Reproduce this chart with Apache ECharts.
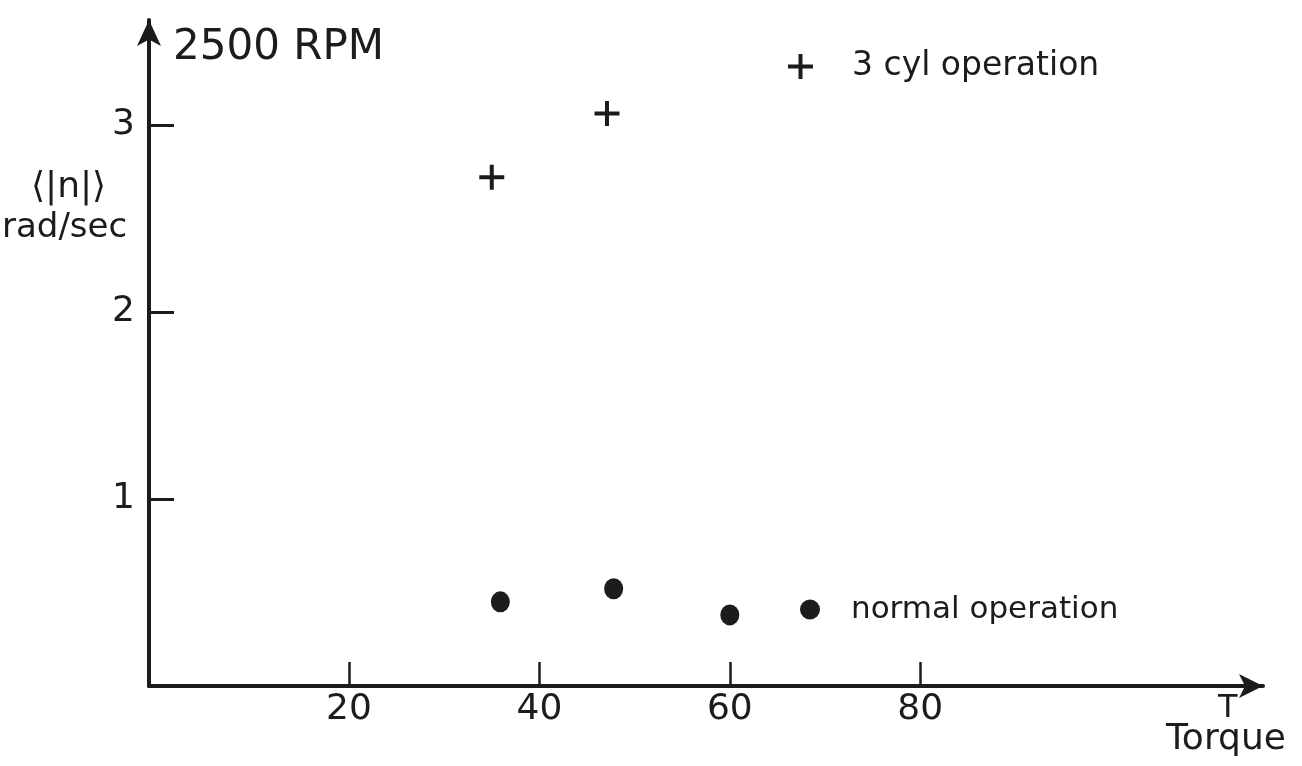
<!DOCTYPE html>
<html>
<head>
<meta charset="utf-8">
<style>
  html, body { margin: 0; padding: 0; background: #fff; }
  #chart { width: 1302px; height: 766px; }
</style>
<script src="https://cdn.jsdelivr.net/npm/echarts@6/dist/echarts.min.js"></script>
</head>
<body>
<div id="chart"></div>
<script>
// torque (x) vs <|n|> rad/sec (y)
const cylTorque = [35.0, 47.1];
const cylSpeed = [2.72, 3.06];
const normalTorque = [35.9, 47.8, 60.0];
const normalSpeed = [0.45, 0.52, 0.38];

const xTicks = [20, 40, 60, 80];
const yTicks = [1, 2, 3];

const ink = '#1c1c1c';
const font = 'DejaVu Sans';
const plusPath = 'path://M8.4,0H11.6V8.4H20V11.6H11.6V20H8.4V11.6H0V8.4H8.4Z';

function pairs(xs, ys) {
    return xs.map((x, i) => [x, ys[i]]);
}

function label(text, left, top, size) {
    return {
        type: 'text',
        left: left,
        top: top,
        style: { text: text, fontFamily: font, fontSize: size, fill: ink }
    };
}

let myChart = echarts.init(document.getElementById('chart'));
let option = {
    animation: false,
    backgroundColor: '#fff',
    textStyle: { fontFamily: font, color: ink },
    title: {
        text: '2500 RPM',
        left: 168,
        top: 22,
        textStyle: { fontFamily: font, fontSize: 42, fontWeight: 'normal', color: ink }
    },
    legend: [{
        data: [{ name: '3 cyl operation', icon: plusPath }],
        left: 783,
        top: 45,
        itemWidth: 25,
        itemHeight: 25,
        textStyle: { fontFamily: font, fontSize: 33, color: ink, padding: [0, 0, 0, 34] },
        selectedMode: false
    }, {
        data: [{ name: 'normal operation', icon: 'circle' }],
        left: 795,
        top: 589,
        itemWidth: 20,
        itemHeight: 22,
        textStyle: { fontFamily: font, fontSize: 31, color: ink, padding: [0, 0, 0, 26] },
        selectedMode: false
    }],
    grid: { left: 149, right: 39, top: 20, bottom: 80 },
    xAxis: {
        type: 'value',
        min: -1,
        max: 116,
        splitLine: { show: false },
        axisLine: {
            onZero: false,
            symbol: ['none', 'arrow'],
            symbolSize: [18, 24],
            lineStyle: { color: ink, width: 4 }
        },
        axisTick: {
            inside: true,
            length: 24,
            customValues: xTicks,
            lineStyle: { color: ink, width: 2.5 }
        },
        axisLabel: {
            customValues: xTicks,
            margin: 6,
            fontFamily: font,
            fontSize: 36,
            color: ink
        }
    },
    yAxis: {
        type: 'value',
        min: 0,
        max: 3.56,
        splitLine: { show: false },
        axisLine: {
            onZero: false,
            symbol: ['none', 'arrow'],
            symbolSize: [18, 26],
            lineStyle: { color: ink, width: 4 }
        },
        axisTick: {
            inside: true,
            length: 25,
            customValues: yTicks,
            lineStyle: { color: ink, width: 3 }
        },
        axisLabel: {
            customValues: yTicks,
            margin: 14,
            fontFamily: font,
            fontSize: 36,
            color: ink
        }
    },
    graphic: [
        label('⟨|n|⟩', 31, 170, 36),
        label('rad/sec', 2, 211, 34),
        label('T', 1218, 693, 32),
        label('Torque', 1166, 722, 36)
    ],
    series: [{
        name: '3 cyl operation',
        type: 'scatter',
        symbol: plusPath,
        symbolSize: 25,
        itemStyle: { color: ink, opacity: 1 },
        data: pairs(cylTorque, cylSpeed)
    }, {
        name: 'normal operation',
        type: 'scatter',
        symbol: 'circle',
        symbolSize: [19, 21],
        itemStyle: { color: ink, opacity: 1 },
        data: pairs(normalTorque, normalSpeed)
    }]
};
myChart.setOption(option);
</script>
</body>
</html>
